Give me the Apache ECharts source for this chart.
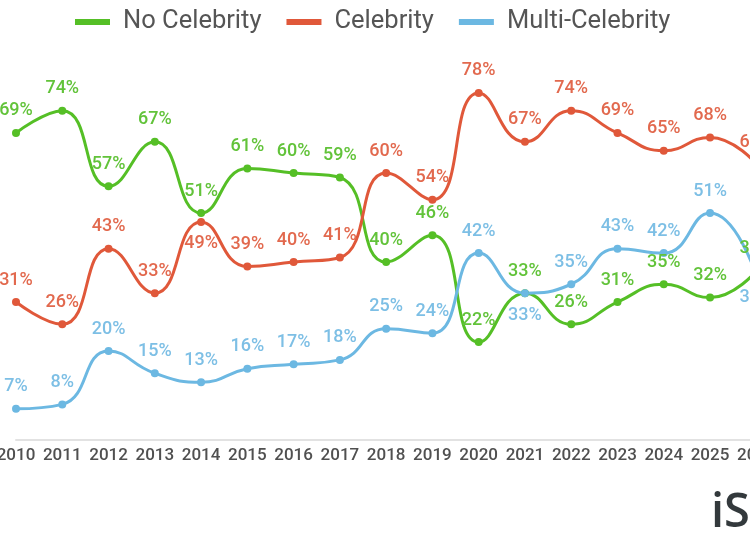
<!DOCTYPE html>
<html>
<head>
<meta charset="utf-8">
<script src="https://cdn.jsdelivr.net/npm/echarts@6/dist/echarts.min.js"></script>
<style>
  html, body { margin: 0; padding: 0; background: #fff; }
  #chart { width: 750px; height: 536px; }
</style>
</head>
<body>
<div id="chart"></div>
<script>
var years = ['2010', '2011', '2012', '2013', '2014', '2015', '2016', '2017', '2018',
             '2019', '2020', '2021', '2022', '2023', '2024', '2025', '2026'];
var noCelebrity    = [69, 74, 57, 67, 51, 61, 60, 59, 40, 46, 22, 33, 26, 31, 35, 32, 38];
var celebrity      = [31, 26, 43, 33, 49, 39, 40, 41, 60, 54, 78, 67, 74, 69, 65, 68, 62];
var multiCelebrity = [7, 8, 20, 15, 13, 16, 17, 18, 25, 24, 42, 33, 35, 43, 42, 51, 37];

// points whose label sits under the dot
var celebrityBelow = ['2014'];
var multiBelow = ['2021', '2026'];

function points(values, below) {
    return values.map(function (v, i) {
        if (below.indexOf(years[i]) >= 0) {
            return { value: v, label: { position: 'bottom' } };
        }
        return v;
    });
}

function makeSeries(name, values, below, lineColor, labelColor) {
    return {
        name: name,
        type: 'line',
        smooth: 0.5,
        clip: false,
        data: points(values, below),
        symbol: 'circle',
        symbolSize: 8,
        itemStyle: { color: lineColor },
        lineStyle: { color: lineColor, width: 3 },
        label: {
            show: true,
            position: 'top',
            distance: 9,
            formatter: '{c}%',
            color: labelColor,
            fontFamily: 'Roboto',
            fontWeight: 500,
            fontSize: 18
        }
    };
}

var chart = echarts.init(document.getElementById('chart'), null, { renderer: 'canvas' });

chart.setOption({
    backgroundColor: '#ffffff',
    animation: false,
    legend: {
        top: 9,
        left: 75,
        padding: 0,
        icon: 'rect',
        itemWidth: 35,
        itemHeight: 6,
        itemGap: 25,
        textStyle: {
            fontFamily: 'Roboto',
            fontSize: 25.5,
            color: '#555',
            padding: [0, 0, 0, 8]
        },
        data: ['No Celebrity', 'Celebrity', 'Multi-Celebrity']
    },
    grid: { left: 16, width: 740.3, top: 84, height: 356, outerBoundsMode: 'none', containLabel: false },
    xAxis: {
        type: 'category',
        data: years,
        boundaryGap: false,
        axisLine: { lineStyle: { color: '#e2e2e2', width: 2 } },
        axisTick: { show: false },
        axisLabel: {
            margin: 7,
            interval: 0,
            color: '#505050',
            fontFamily: 'Roboto',
            fontWeight: 500,
            fontSize: 17
        }
    },
    yAxis: {
        type: 'value',
        min: 0,
        max: 80,
        show: false,
        splitLine: { show: false }
    },
    graphic: [{
        type: 'text',
        left: 711,
        top: 490,
        style: {
            text: 'iSpot',
            fill: '#33393c',
            font: '600 47px "Open Sans"'
        }
    }],
    series: [
        makeSeries('No Celebrity', noCelebrity, [], '#55bf26', '#62c33a'),
        makeSeries('Celebrity', celebrity, celebrityBelow, '#e0583a', '#e2694e'),
        makeSeries('Multi-Celebrity', multiCelebrity, multiBelow, '#6cb8e2', '#7dbfe5')
    ]
});
</script>
</body>
</html>
